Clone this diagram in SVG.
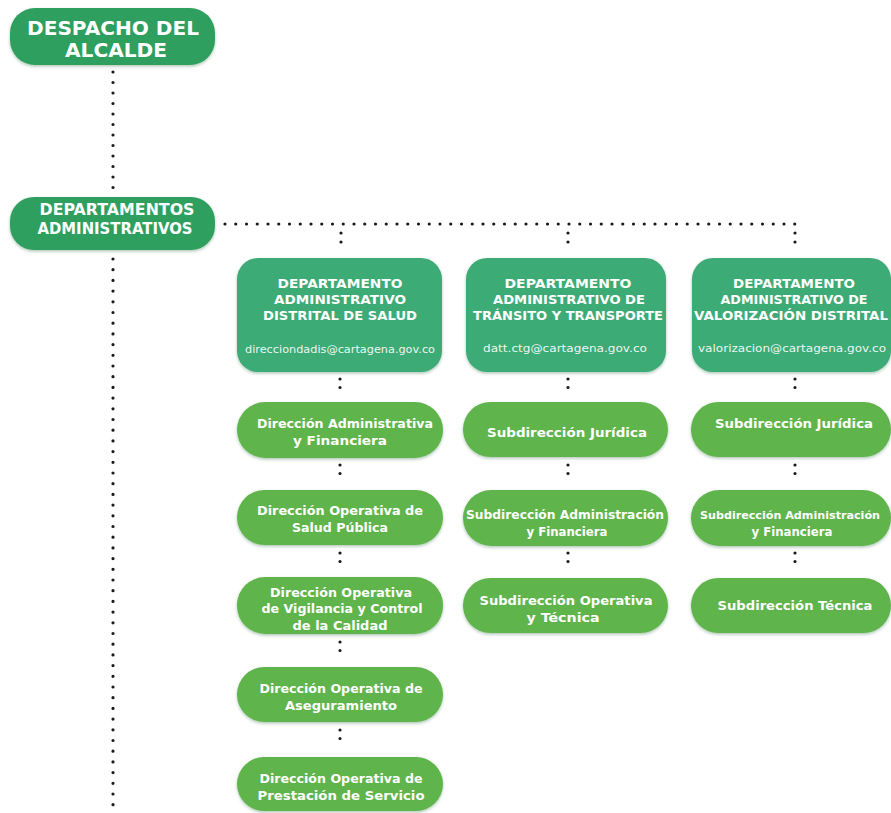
<svg xmlns="http://www.w3.org/2000/svg" width="891" height="813" viewBox="0 0 891 813">
<defs>
<filter id="sh" x="-10%" y="-10%" width="120%" height="130%">
<feDropShadow dx="0" dy="1.5" stdDeviation="1.5" flood-color="#1d5e34" flood-opacity="0.35"/>
</filter>
<style>
.top{fill:#2f9f5e;filter:url(#sh)}
.dep{fill:#3dab76;filter:url(#sh)}
.sub{fill:#5fb44b;filter:url(#sh)}
text{fill:#ffffff;font-family:"DejaVu Sans","Liberation Sans",sans-serif;text-anchor:middle}
.t1{font-size:19.5px;font-weight:bold}
.t2{font-size:15px;font-weight:bold}
.t3{font-size:12.5px;font-weight:bold}
.em{font-size:10.5px;font-weight:normal;fill-opacity:0.92}
.t4{font-size:13px;font-weight:bold}
.t5{font-size:11px;font-weight:bold}
.dots{stroke:#1a1a1a;stroke-width:3.2;stroke-linecap:round;fill:none}
</style>
</defs>
<rect width="891" height="813" fill="#ffffff"/>

<g id="connectors" class="dots">
<line x1="113" y1="72" x2="113" y2="188" stroke-dasharray="0 10.5"/>
<line x1="113" y1="259" x2="113" y2="813" stroke-dasharray="0 10.7"/>
<line x1="225" y1="224" x2="795" y2="224" stroke-dasharray="0 10.75"/>
<line x1="341" y1="233" x2="341" y2="251" stroke-dasharray="0 9"/>
<line x1="568" y1="233" x2="568" y2="251" stroke-dasharray="0 9"/>
<line x1="795" y1="233" x2="795" y2="251" stroke-dasharray="0 9"/>
<line x1="340" y1="379" x2="340" y2="396" stroke-dasharray="0 8.5"/>
<line x1="340" y1="465" x2="340" y2="482" stroke-dasharray="0 8.5"/>
<line x1="340" y1="553" x2="340" y2="570" stroke-dasharray="0 8.5"/>
<line x1="340" y1="642" x2="340" y2="659" stroke-dasharray="0 8.5"/>
<line x1="340" y1="730" x2="340" y2="747" stroke-dasharray="0 8.5"/>
<line x1="568" y1="379" x2="568" y2="396" stroke-dasharray="0 8.5"/>
<line x1="568" y1="465" x2="568" y2="482" stroke-dasharray="0 8.5"/>
<line x1="568" y1="553" x2="568" y2="570" stroke-dasharray="0 8.5"/>
<line x1="795" y1="379" x2="795" y2="396" stroke-dasharray="0 8.5"/>
<line x1="795" y1="465" x2="795" y2="482" stroke-dasharray="0 8.5"/>
<line x1="795" y1="553" x2="795" y2="570" stroke-dasharray="0 8.5"/>
</g>

<g id="despacho">
<rect class="top" x="10" y="8" width="205" height="57" rx="25"/>
<text class="t1" x="113" y="35" textLength="172" lengthAdjust="spacingAndGlyphs">DESPACHO DEL</text>
<text class="t1" x="116" y="57" textLength="102" lengthAdjust="spacingAndGlyphs">ALCALDE</text>
</g>

<g id="departamentos">
<rect class="top" x="10" y="197" width="205" height="53" rx="24"/>
<text class="t2" x="117" y="215" textLength="155" lengthAdjust="spacingAndGlyphs">DEPARTAMENTOS</text>
<text class="t2" x="115" y="234" textLength="155" lengthAdjust="spacingAndGlyphs">ADMINISTRATIVOS</text>
</g>

<g id="dadis">
<rect class="dep" x="237" y="258" width="205" height="114" rx="21"/>
<text class="t3" x="340" y="288" textLength="125" lengthAdjust="spacingAndGlyphs">DEPARTAMENTO</text>
<text class="t3" x="340" y="304" textLength="132" lengthAdjust="spacingAndGlyphs">ADMINISTRATIVO</text>
<text class="t3" x="340" y="320" textLength="154" lengthAdjust="spacingAndGlyphs">DISTRITAL DE SALUD</text>
<text class="em" x="340" y="353" textLength="190" lengthAdjust="spacingAndGlyphs">direcciondadis@cartagena.gov.co</text>
</g>

<g id="datt">
<rect class="dep" x="466" y="258" width="200" height="114" rx="21"/>
<text class="t3" x="568" y="288" textLength="127" lengthAdjust="spacingAndGlyphs">DEPARTAMENTO</text>
<text class="t3" x="569" y="304" textLength="152" lengthAdjust="spacingAndGlyphs">ADMINISTRATIVO DE</text>
<text class="t3" x="568" y="320" textLength="190" lengthAdjust="spacingAndGlyphs">TRÁNSITO Y TRANSPORTE</text>
<text class="em" x="565" y="352" textLength="164" lengthAdjust="spacingAndGlyphs">datt.ctg@cartagena.gov.co</text>
</g>

<g id="valorizacion">
<rect class="dep" x="692" y="258" width="199" height="114" rx="21"/>
<text class="t3" x="794" y="288" textLength="122" lengthAdjust="spacingAndGlyphs">DEPARTAMENTO</text>
<text class="t3" x="794" y="304" textLength="147" lengthAdjust="spacingAndGlyphs">ADMINISTRATIVO DE</text>
<text class="t3" x="791" y="320" textLength="194" lengthAdjust="spacingAndGlyphs">VALORIZACIÓN DISTRITAL</text>
<text class="em" x="792" y="352" textLength="188" lengthAdjust="spacingAndGlyphs">valorizacion@cartagena.gov.co</text>
</g>

<g id="dadis-1">
<rect class="sub" x="237" y="402" width="206" height="56" rx="28"/>
<text class="t4" x="345" y="428" textLength="176" lengthAdjust="spacingAndGlyphs">Dirección Administrativa</text>
<text class="t4" x="340" y="445" textLength="94" lengthAdjust="spacingAndGlyphs">y Financiera</text>
</g>
<g id="dadis-2">
<rect class="sub" x="237" y="490" width="206" height="55" rx="27.5"/>
<text class="t4" x="340" y="515" textLength="166" lengthAdjust="spacingAndGlyphs">Dirección Operativa de</text>
<text class="t4" x="340" y="532" textLength="96" lengthAdjust="spacingAndGlyphs">Salud Pública</text>
</g>
<g id="dadis-3">
<rect class="sub" x="237" y="577" width="206" height="57" rx="28"/>
<text class="t4" x="341" y="597" textLength="142" lengthAdjust="spacingAndGlyphs">Dirección Operativa</text>
<text class="t4" x="342" y="613" textLength="161" lengthAdjust="spacingAndGlyphs">de Vigilancia y Control</text>
<text class="t4" x="340" y="630" textLength="95" lengthAdjust="spacingAndGlyphs">de la Calidad</text>
</g>
<g id="dadis-4">
<rect class="sub" x="237" y="667" width="206" height="55" rx="27.5"/>
<text class="t4" x="341" y="693" textLength="163" lengthAdjust="spacingAndGlyphs">Dirección Operativa de</text>
<text class="t4" x="341" y="710" textLength="112" lengthAdjust="spacingAndGlyphs">Aseguramiento</text>
</g>
<g id="dadis-5">
<rect class="sub" x="237" y="757" width="206" height="54" rx="27"/>
<text class="t4" x="341" y="783" textLength="163" lengthAdjust="spacingAndGlyphs">Dirección Operativa de</text>
<text class="t4" x="341" y="800" textLength="167" lengthAdjust="spacingAndGlyphs">Prestación de Servicio</text>
</g>

<g id="datt-1">
<rect class="sub" x="463" y="402" width="205" height="55" rx="27.5"/>
<text class="t4" x="567" y="437" textLength="160" lengthAdjust="spacingAndGlyphs">Subdirección Jurídica</text>
</g>
<g id="datt-2">
<rect class="sub" x="463" y="490" width="205" height="56" rx="28"/>
<text class="t4" x="565" y="519" textLength="198" lengthAdjust="spacingAndGlyphs">Subdirección Administración</text>
<text class="t4" x="567" y="536" textLength="81" lengthAdjust="spacingAndGlyphs">y Financiera</text>
</g>
<g id="datt-3">
<rect class="sub" x="463" y="578" width="205" height="55" rx="27.5"/>
<text class="t4" x="566" y="605" textLength="173" lengthAdjust="spacingAndGlyphs">Subdirección Operativa</text>
<text class="t4" x="563" y="622" textLength="73" lengthAdjust="spacingAndGlyphs">y Técnica</text>
</g>

<g id="valor-1">
<rect class="sub" x="691" y="402" width="200" height="55" rx="27.5"/>
<text class="t4" x="794" y="428" textLength="158" lengthAdjust="spacingAndGlyphs">Subdirección Jurídica</text>
</g>
<g id="valor-2">
<rect class="sub" x="691" y="490" width="200" height="56" rx="28"/>
<text class="t5" x="790" y="519" textLength="180" lengthAdjust="spacingAndGlyphs">Subdirección Administración</text>
<text class="t4" x="792" y="536" textLength="81" lengthAdjust="spacingAndGlyphs">y Financiera</text>
</g>
<g id="valor-3">
<rect class="sub" x="691" y="578" width="200" height="55" rx="27.5"/>
<text class="t4" x="795" y="610" textLength="155" lengthAdjust="spacingAndGlyphs">Subdirección Técnica</text>
</g>
</svg>
